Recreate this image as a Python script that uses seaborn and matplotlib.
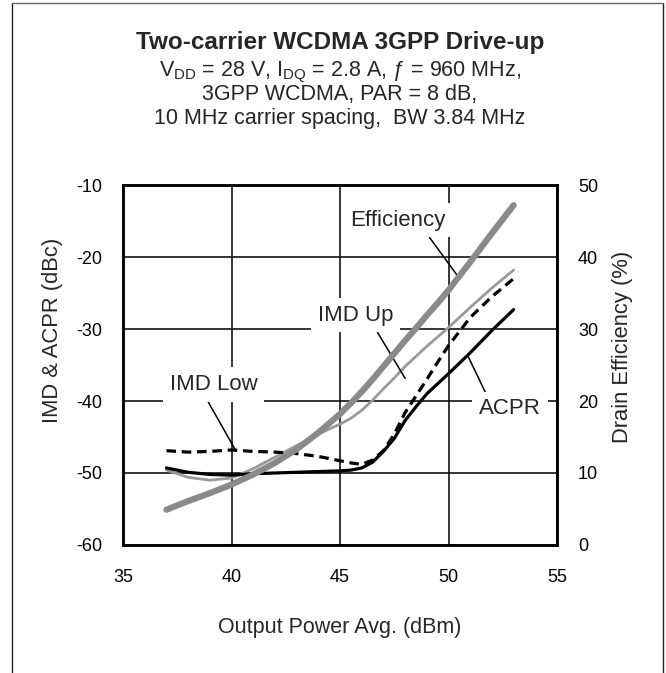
import numpy as np
import pandas as pd
import seaborn as sns
import matplotlib.pyplot as plt
from matplotlib.lines import Line2D

# output power (dBm)
pout = [37, 37.5, 38, 39, 40, 41, 42, 43, 44, 45, 45.5, 46, 46.5, 47, 47.5,
        48, 48.5, 49, 49.5, 50, 51, 52, 53]
# left axis (dBc)
acpr = [-49.3, -49.6, -49.9, -50.2, -50.3, -50.1, -50.0, -49.9, -49.8, -49.7,
        -49.6, -49.3, -48.5, -47.0, -45.2, -42.7, -40.8, -39.0, -37.6, -36.2,
        -33.3, -30.2, -27.3]
imd_low = [-46.9, -47.0, -47.1, -47.0, -46.8, -47.0, -47.1, -47.3, -47.7, -48.3,
           -48.6, -48.8, -48.2, -46.9, -44.6, -41.6, -39.3, -37.0, -34.6, -32.3,
           -28.4, -25.5, -23.0]
imd_up = [-49.6, -50.1, -50.6, -51.0, -50.7, -49.4, -47.8, -46.2, -44.6, -43.2,
          -42.4, -41.3, -39.9, -38.3, -36.8, -35.2, -33.8, -32.4, -31.1, -29.8,
          -27.0, -24.3, -21.8]
# right axis (%)
efficiency = [4.9, 5.5, 6.1, 7.2, 8.4, 9.8, 11.4, 13.3, 15.6, 18.2,
              19.7, 21.3, 23.0, 24.8, 26.6, 28.4, 30.1, 31.9, 33.6, 35.4,
              39.3, 43.3, 47.2]

x_ticks = [35, 40, 45, 50, 55]
left_ticks = [-60, -50, -40, -30, -20, -10]
right_ticks = [0, 10, 20, 30, 40, 50]

# callouts: label, text centre, curve point, relpos on text box
callouts = [
    ('Efficiency', (47.67, -14.9), (50.46, -22.8), (0.78, 0.0)),
    ('IMD Up', (45.71, -28.1), (48.0, -36.85), (0.74, 0.0)),
    ('IMD Low', (39.19, -37.7), (40.16, -46.7), (0.39, 0.0)),
    ('ACPR', (52.83, -41.1), (50.91, -33.85), (0.15, 1.0)),
]

df = pd.DataFrame({'pout': pout, 'acpr': acpr, 'imd_low': imd_low,
                   'imd_up': imd_up, 'eff': efficiency})

sns.set_style('white')
plt.rcParams['font.family'] = ['Liberation Sans', 'DejaVu Sans']
plt.rcParams['mathtext.fontset'] = 'custom'
plt.rcParams['mathtext.rm'] = 'Liberation Sans'
plt.rcParams['mathtext.it'] = 'Liberation Sans:italic'
plt.rcParams['axes.unicode_minus'] = False

fig = plt.figure(figsize=(6.66, 6.73), dpi=100)
ax = fig.add_axes([0.1847, 0.1902, 0.6517, 0.5349])
ax2 = ax.twinx()

sns.lineplot(data=df, x='pout', y='imd_up', ax=ax, color='#9a9a9a', lw=2.0,
             legend=False, solid_capstyle='round')
sns.lineplot(data=df, x='pout', y='acpr', ax=ax, color='black', lw=2.3,
             legend=False, solid_capstyle='round')
sns.lineplot(data=df, x='pout', y='imd_low', ax=ax, color='black', lw=2.3,
             legend=False)
ax.lines[-1].set_linestyle((0, (3, 1.8)))
sns.lineplot(data=df, x='pout', y='eff', ax=ax2, color='#8a8a8a', lw=4.5,
             legend=False, solid_capstyle='round')

ax.set_xlim(35, 55)
ax.set_ylim(-60, -10)
ax2.set_ylim(0, 50)
ax.set_xticks(x_ticks)
ax.set_yticks(left_ticks)
ax2.set_yticks(right_ticks)
ax.grid(True, color='black', lw=1.1)
ax.set_axisbelow(True)
for a in (ax, ax2):
    for s in a.spines.values():
        s.set_color('black')
        s.set_linewidth(1.8)
    a.tick_params(length=0, labelsize=13, colors='black')
ax.tick_params(axis='y', pad=15)
ax.tick_params(axis='x', pad=17)
ax2.tick_params(axis='y', pad=15)

ax.set_xlabel('Output Power Avg. (dBm)', fontsize=15.5)
ax.set_ylabel('IMD & ACPR (dBc)', fontsize=15.8)
ax2.set_ylabel('Drain Efficiency (%)', fontsize=15.8)
ax.xaxis.set_label_coords(0.5, -0.2)
ax.yaxis.set_label_coords(-0.138, 0.597)
ax2.yaxis.set_label_coords(1.127, 0.551)

for label, xytext, xy, rel in callouts:
    ax.annotate(label, xy=xy, xytext=xytext, ha='center', va='center',
                fontsize=16, zorder=4,
                bbox=dict(boxstyle='square,pad=0.3', fc='white', ec='none'),
                arrowprops=dict(arrowstyle='-', color='black', lw=1.1,
                                shrinkA=0, shrinkB=0, relpos=rel))

cx = 0.5105
fig.text(cx, 1 - 49 / 673, 'Two-carrier WCDMA 3GPP Drive-up', ha='center',
         va='baseline', fontsize=17.5, fontweight='bold')
fig.text(cx, 1 - 76 / 673,
         r'V$_{\mathrm{DD}}$ = 28 V, I$_{\mathrm{DQ}}$ = 2.8 A, ƒ = 960 MHz,',
         ha='center', va='baseline', fontsize=15.5)
fig.text(cx, 1 - 100 / 673, '3GPP WCDMA, PAR = 8 dB,', ha='center',
         va='baseline', fontsize=15.5)
fig.text(cx, 1 - 124 / 673, '10 MHz carrier spacing,  BW 3.84 MHz',
         ha='center', va='baseline', fontsize=15.5)

# outer frame
fl, fr, ft = 11.5 / 666, 662.5 / 666, 1 - 2.5 / 673
fig.add_artist(Line2D([fl, fl], [-0.01, ft], color='#222222', lw=1.0))
fig.add_artist(Line2D([fr, fr], [-0.01, ft], color='#222222', lw=1.0))
fig.add_artist(Line2D([fl, fr], [ft, ft], color='#666666', lw=1.0))

fig.savefig('out.png', dpi=100)
